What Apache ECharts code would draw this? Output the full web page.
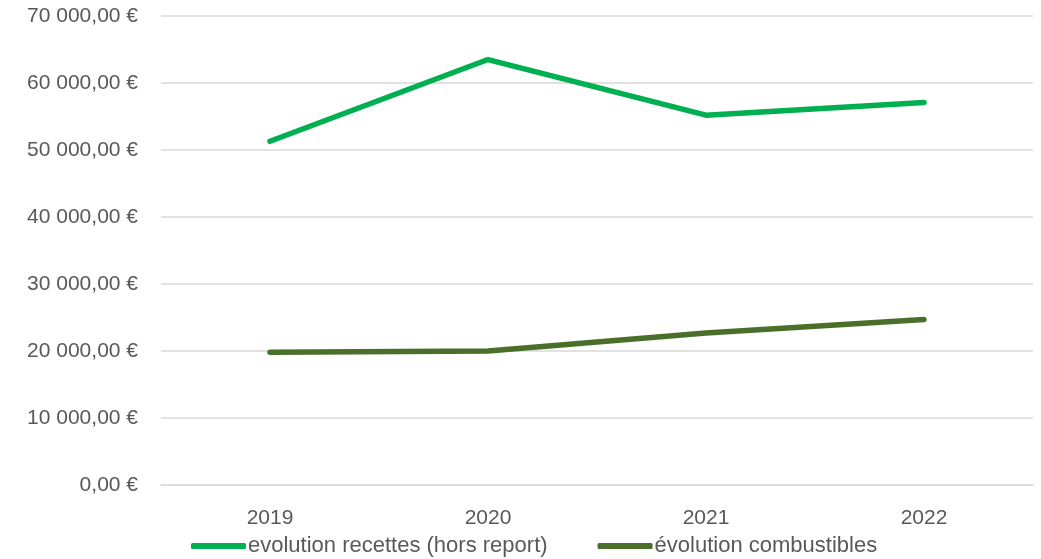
<!DOCTYPE html>
<html>
<head>
<meta charset="utf-8">
<script src="https://cdn.jsdelivr.net/npm/echarts@6/dist/echarts.min.js"></script>
<style>
  html, body { margin: 0; padding: 0; background: #fff; }
  #chart { width: 1041px; height: 559px; }
</style>
</head>
<body>
<div id="chart"></div>
<script>
const years = ['2019', '2020', '2021', '2022']
const recettes = [51300, 63500, 55200, 57100]
const combustibles = [19800, 20000, 22700, 24700]
const seriesNames = ['evolution recettes (hors report)', 'évolution combustibles']

// format 70000 -> "70 000,00 €"
const euro = (v) => {
  let s = String(Math.round(v)).replace(/\B(?=(\d{3})+(?!\d))/g, ' ')
  return s + ',00 €'
}

const chart = echarts.init(document.getElementById('chart'))
chart.setOption({
  backgroundColor: '#fff',
  animation: false,
  textStyle: { fontFamily: 'Liberation Sans, Arial, sans-serif' },
  grid: { left: 161, right: 8, top: 16, bottom: 74 },
  legend: {
    bottom: -3,
    left: 186,
    itemWidth: 55,
    itemHeight: 6,
    itemGap: 50,
    itemStyle: { borderWidth: 0 },
    icon: 'roundRect',
    textStyle: { color: '#595959', fontSize: 22, padding: [0, 0, 0, -3] },
    data: seriesNames
  },
  xAxis: {
    type: 'category',
    data: years,
    axisLine: { lineStyle: { color: '#d9d9d9', width: 1.5 } },
    axisTick: { show: false },
    axisLabel: { color: '#595959', fontSize: 21, margin: 23 }
  },
  yAxis: {
    type: 'value',
    min: 0,
    max: 70000,
    interval: 10000,
    axisLine: { show: false },
    axisTick: { show: false },
    splitLine: { lineStyle: { color: '#d9d9d9', width: 1.5 } },
    axisLabel: { color: '#595959', fontSize: 21, margin: 23, formatter: euro }
  },
  series: [
    {
      name: seriesNames[0],
      type: 'line',
      data: recettes,
      symbol: 'none',
      lineStyle: { color: '#00b050', width: 5.5, cap: 'round', join: 'round' },
      itemStyle: { color: '#00b050' }
    },
    {
      name: seriesNames[1],
      type: 'line',
      data: combustibles,
      symbol: 'none',
      lineStyle: { color: '#4a6f2a', width: 5.5, cap: 'round', join: 'round' },
      itemStyle: { color: '#4a6f2a' }
    }
  ]
})
</script>
</body>
</html>
